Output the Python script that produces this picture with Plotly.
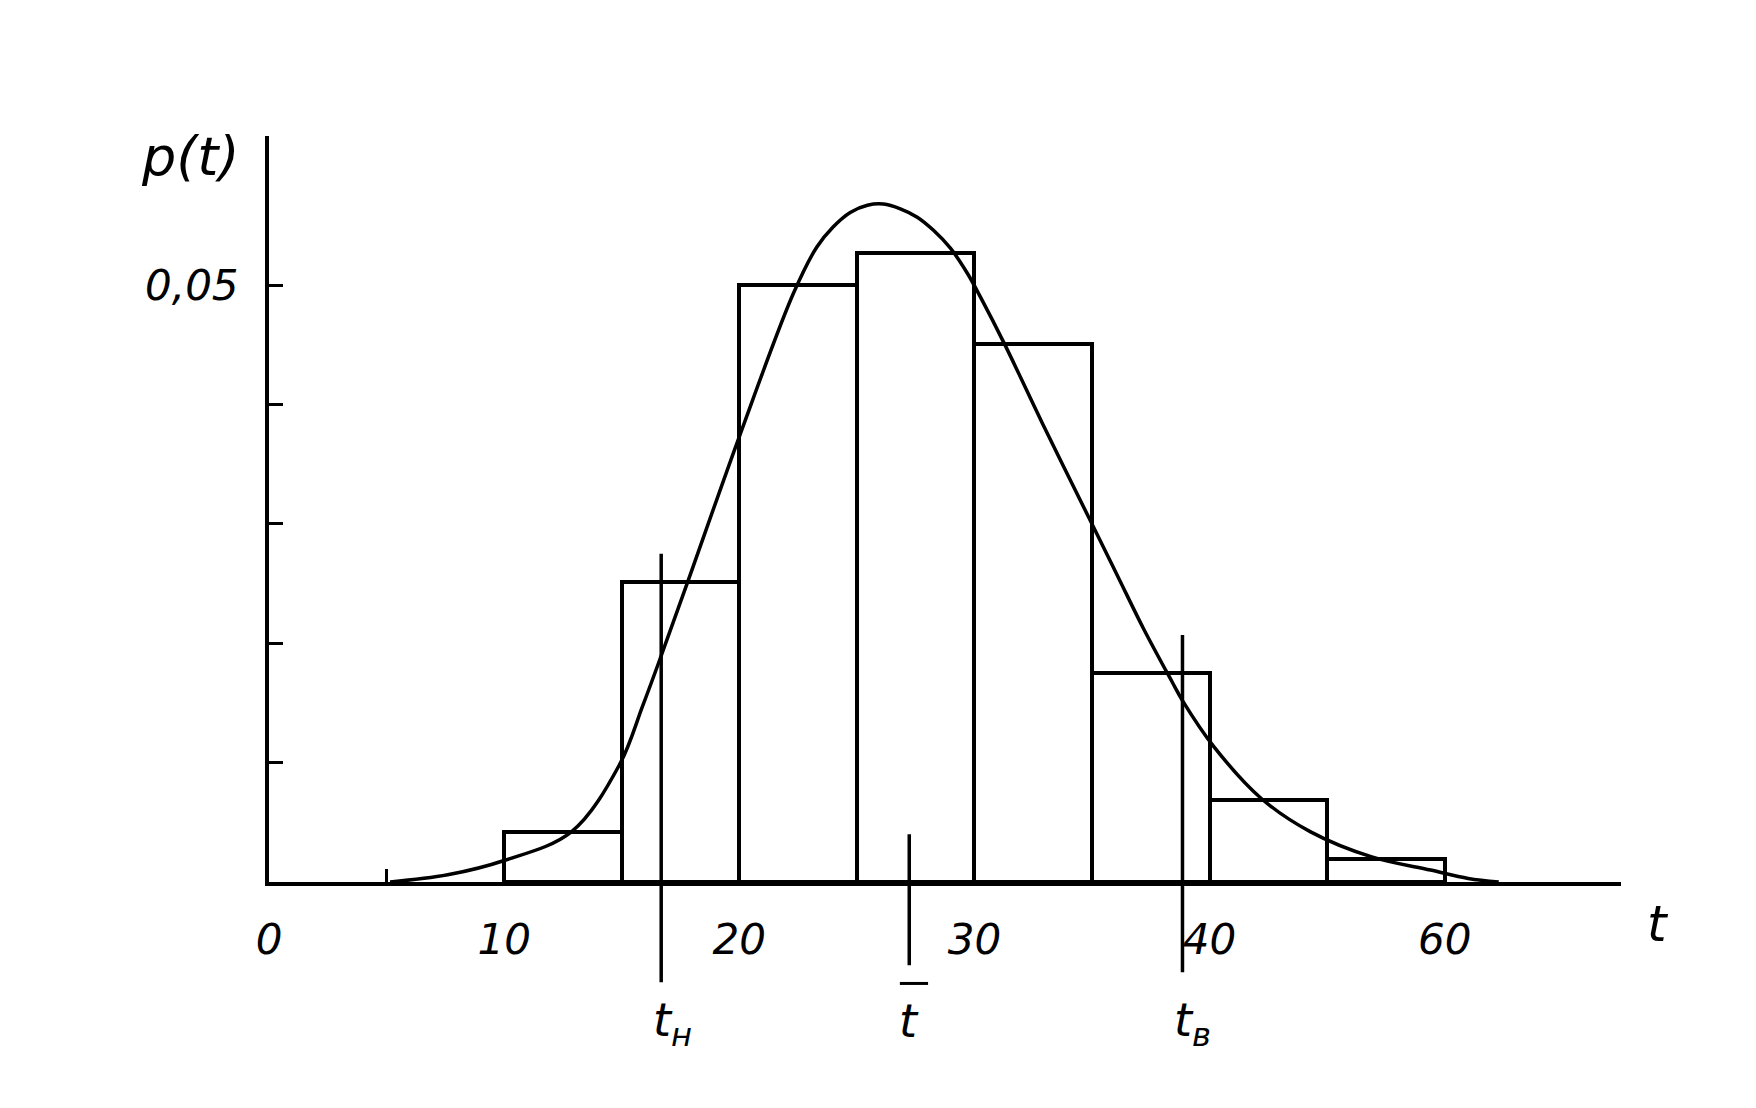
import plotly.graph_objects as go

# ---- data ----
bin_edges = [10, 15, 20, 25, 30, 35, 40, 45, 50]
bar_heights = [0.0042, 0.0251, 0.0500, 0.0527, 0.0451, 0.0175, 0.0069, 0.0019]

curve_t = [5.15, 7.6, 10.0, 12.86, 14.9, 15.9, 16.67, 17.8, 20.0, 22.3, 23.3,
           24.0, 24.72, 25.45, 26.13, 26.85, 27.57, 28.26, 28.98, 29.7, 30.26, 31.3,
           32.9, 34.85, 36.1, 37.2, 38.4, 38.85, 40.2, 42.2, 44.3, 46.9, 49.4, 51.0, 52.3]
curve_p = [0.0, 0.0006, 0.0018, 0.0042, 0.0098, 0.0148, 0.0189, 0.0251, 0.0373,
           0.0493, 0.0532, 0.0549, 0.0561, 0.0567, 0.0568, 0.0564, 0.0557, 0.0546,
           0.0531, 0.0510, 0.0490, 0.0450, 0.0384, 0.0306, 0.0256, 0.0212, 0.0168,
           0.0152, 0.0113, 0.0070, 0.0042, 0.0021, 0.0010, 0.0003, 0.0]

x_tick_vals = [0, 10, 20, 30, 40, 50]
x_tick_text = ["0", "10", "20", "30", "40", "60"]
x_minor_vals = [5]
y_label_vals = [0.05]
y_label_text = ["0,05"]
y_minor_vals = [0.01, 0.02, 0.03, 0.04]

marker_names = ["t<sub>н</sub>", "t", "t<sub>в</sub>"]
marker_t = [16.68, 27.23, 38.85]
marker_top = [0.0275, 0.0040, 0.0207]

Y_MAX = 0.0625
X_MAX = 57.5
LW = 4

fig = go.Figure()

fig.add_trace(go.Bar(
    x=bin_edges[:-1], y=bar_heights,
    width=[b - a for a, b in zip(bin_edges[:-1], bin_edges[1:])],
    offset=0, marker=dict(color="white", line=dict(color="black", width=LW)),
    showlegend=False, hoverinfo="skip"))

fig.add_trace(go.Scatter(
    x=curve_t, y=curve_p, mode="lines",
    line=dict(color="black", width=3.5, shape="spline", smoothing=1.0),
    showlegend=False, hoverinfo="skip"))

# marker lines (extend below axis)
bottoms = [-0.1345, -0.1117, -0.1211]
for tv, top, bot in zip(marker_t, marker_top, bottoms):
    fig.add_shape(type="line", xref="x", yref="paper", x0=tv, x1=tv,
                  y0=bot, y1=top / Y_MAX, line=dict(color="black", width=3.5))

annotations = []
for name, tv in zip(marker_names, marker_t):
    if name == "t":
        annotations.append(dict(x=tv, y=-0.186, xref="x", yref="paper", text=name,
                                showarrow=False, xanchor="center", yanchor="middle",
                                font=dict(size=46)))
    else:
        annotations.append(dict(x=tv, y=-0.19, xref="x", yref="paper", text=name,
                                showarrow=False, xanchor="left", yanchor="middle", xshift=-10,
                                font=dict(size=46)))
# overline of t-bar
fig.add_shape(type="line", xref="x", yref="paper", x0=marker_t[1] - 0.4, x1=marker_t[1] + 0.8,
              y0=-0.136, y1=-0.136, line=dict(color="black", width=3))

annotations.append(dict(x=-0.0577, y=0.973, xref="paper", yref="paper", text="p(t)",
                        showarrow=False, xanchor="center", yanchor="middle", font=dict(size=54)))
annotations.append(dict(x=1.0274, y=-0.0567, xref="paper", yref="paper", text="t",
                        showarrow=False, xanchor="center", yanchor="middle", font=dict(size=50)))

fig.update_layout(
    width=1756, height=1108,
    margin=dict(l=261, r=143, t=128, b=234),
    paper_bgcolor="white", plot_bgcolor="white",
    font=dict(family="DejaVu Sans", color="black", size=42, style="italic"),
    bargap=0, annotations=annotations,
    xaxis=dict(range=[0, X_MAX], showgrid=False, zeroline=False, showline=True,
               linecolor="black", linewidth=LW, tickvals=x_tick_vals, ticktext=x_tick_text,
               ticks="outside", ticklen=18, tickcolor="rgba(0,0,0,0)",
               tickfont=dict(size=42),
               minor=dict(tickvals=x_minor_vals, ticks="inside", ticklen=13, tickwidth=3,
                          tickcolor="black", showgrid=False)),
    yaxis=dict(range=[0, Y_MAX], showgrid=False, zeroline=False, showline=True,
               linecolor="black", linewidth=LW, tickvals=y_label_vals, ticktext=y_label_text,
               ticks="inside", ticklen=14, tickwidth=3, tickcolor="black",
               ticklabelstandoff=18, tickfont=dict(size=42),
               minor=dict(tickvals=y_minor_vals, ticks="inside", ticklen=14, tickwidth=3,
                          tickcolor="black", showgrid=False)),
)

fig.write_html("out.html")
